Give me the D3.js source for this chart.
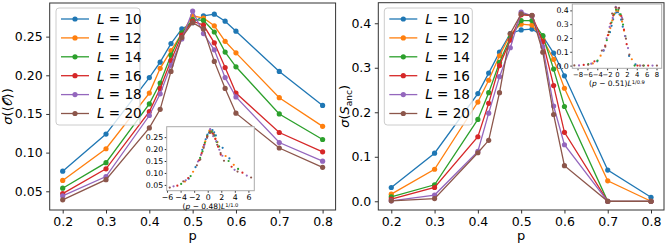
<!DOCTYPE html>
<html>
<head>
<meta charset="utf-8">
<script src="https://cdn.jsdelivr.net/npm/d3@7"></script>
<style>
  body { margin: 0; background: #fff; }
  svg { font-family: "DejaVu Sans", sans-serif; }
  .tick text { fill: #000; }
</style>
</head>
<body>
<div id="chart"></div>
<script>
// p values along the x axis
var pValues = [0.2, 0.3, 0.4, 0.425, 0.45, 0.475, 0.5, 0.525, 0.55, 0.575, 0.6, 0.7, 0.8];
var sizes = [10, 12, 14, 16, 18, 20];
var colors = ["#1f77b4", "#ff7f0e", "#2ca02c", "#d62728", "#9467bd", "#8c564b"];

// left panel: sigma(<O>)
var sigmaO10 = [0.076, 0.124, 0.197, 0.217, 0.241, 0.260, 0.268, 0.277, 0.279, 0.270, 0.257, 0.205, 0.161];
var sigmaO12 = [0.064, 0.105, 0.177, 0.209, 0.232, 0.254, 0.277, 0.274, 0.264, 0.244, 0.229, 0.171, 0.134];
var sigmaO14 = [0.054, 0.087, 0.163, 0.190, 0.226, 0.255, 0.272, 0.271, 0.256, 0.230, 0.211, 0.150, 0.117];
var sigmaO16 = [0.047, 0.079, 0.153, 0.183, 0.219, 0.252, 0.270, 0.265, 0.242, 0.210, 0.177, 0.126, 0.101];
var sigmaO18 = [0.044, 0.069, 0.148, 0.176, 0.213, 0.247, 0.283, 0.254, 0.233, 0.197, 0.172, 0.113, 0.089];
var sigmaO20 = [0.039, 0.065, 0.132, 0.156, 0.205, 0.249, 0.268, 0.260, 0.218, 0.183, 0.151, 0.106, 0.081];

// right panel: sigma(S_anc)
var sigmaS10 = [0.031, 0.108, 0.242, 0.288, 0.335, 0.377, 0.385, 0.387, 0.371, 0.333, 0.282, 0.070, 0.009];
var sigmaS12 = [0.016, 0.072, 0.223, 0.272, 0.327, 0.375, 0.398, 0.396, 0.364, 0.319, 0.254, 0.046, 0.000];
var sigmaS14 = [0.010, 0.037, 0.184, 0.244, 0.312, 0.368, 0.406, 0.406, 0.372, 0.297, 0.213, 0.000, 0.000];
var sigmaS16 = [0.005, 0.031, 0.145, 0.220, 0.305, 0.362, 0.419, 0.417, 0.359, 0.260, 0.155, 0.000, 0.000];
var sigmaS18 = [0.001, 0.014, 0.112, 0.198, 0.280, 0.345, 0.425, 0.417, 0.347, 0.214, 0.127, 0.000, 0.000];
var sigmaS20 = [0.001, 0.006, 0.109, 0.137, 0.244, 0.377, 0.421, 0.418, 0.335, 0.195, 0.080, 0.000, 0.000];

// tick labels
var leftYTicks = [0.05, 0.10, 0.15, 0.20, 0.25];
var rightYTicks = [0.0, 0.1, 0.2, 0.3, 0.4];
var xTicks = [0.2, 0.3, 0.4, 0.5, 0.6, 0.7, 0.8];
var leftInsetXTicks = [-6, -4, -2, 0, 2, 4, 6];
var rightInsetXTicks = [-8, -6, -4, -2, 0, 2, 4, 6, 8];

// collapse parameters shown on the inset labels
var leftPc = 0.48, leftNu = 1.0;
var rightPc = 0.51, rightNu = 0.9;

var svg = d3.select("#chart").append("svg")
  .attr("width", 665)
  .attr("height", 244);

function drawPanel(opt) {
  var x = d3.scaleLinear().domain([0.17, 0.83]).range([opt.x0, opt.x1]);
  var y = d3.scaleLinear().domain(opt.yDomain).range([opt.y1, opt.y0]);
  var g = svg.append("g");

  var line = d3.line()
    .x(function(d, i) { return x(pValues[i]); })
    .y(function(d) { return y(d); });

  opt.series.forEach(function(s, k) {
    g.append("path")
      .datum(s)
      .attr("fill", "none")
      .attr("stroke", colors[k])
      .attr("stroke-width", 1.3)
      .attr("d", line);
    g.selectAll(null)
      .data(s)
      .enter().append("circle")
      .attr("cx", function(d, i) { return x(pValues[i]); })
      .attr("cy", function(d) { return y(d); })
      .attr("r", 2.6)
      .attr("fill", colors[k]);
  });

  var xa = g.append("g")
    .attr("transform", "translate(0," + opt.y1 + ")")
    .call(d3.axisBottom(x).tickValues(xTicks).tickFormat(d3.format(".1f")).tickSize(3.5).tickPadding(3.5));
  var ya = g.append("g")
    .attr("transform", "translate(" + opt.x0 + ",0)")
    .call(d3.axisLeft(y).tickValues(opt.yTicks).tickFormat(d3.format(opt.yFmt)).tickSize(3.5).tickPadding(3.5));
  [xa, ya].forEach(function(a) {
    a.selectAll("text").attr("font-size", 12.5).attr("font-family", "DejaVu Sans");
    a.select(".domain").remove();
    a.selectAll("line").attr("stroke", "#333");
  });

  g.append("rect")
    .attr("x", opt.x0).attr("y", opt.y0)
    .attr("width", opt.x1 - opt.x0).attr("height", opt.y1 - opt.y0)
    .attr("fill", "none").attr("stroke", "#333").attr("stroke-width", 1);

  // x label
  g.append("text")
    .attr("x", (opt.x0 + opt.x1) / 2).attr("y", 240)
    .attr("text-anchor", "middle").attr("font-size", 13)
    .text("p");

  // y label
  var yl = g.append("text")
    .attr("transform", "translate(" + opt.ylx + "," + ((opt.y0 + opt.y1) / 2) + ") rotate(-90)")
    .attr("text-anchor", "middle").attr("font-size", 13);
  opt.yLabel(yl);

  // legend
  var lg = g.append("g");
  lg.append("rect")
    .attr("x", opt.lx).attr("y", 8).attr("width", opt.lw).attr("height", 117)
    .attr("rx", 3).attr("fill", "#fff").attr("fill-opacity", 0.8)
    .attr("stroke", "#ccc").attr("stroke-width", 1);
  sizes.forEach(function(L, k) {
    var yy = 19 + k * 18.9;
    lg.append("line")
      .attr("x1", opt.lx + 5).attr("x2", opt.lx + 33)
      .attr("y1", yy).attr("y2", yy)
      .attr("stroke", colors[k]).attr("stroke-width", 1.3);
    lg.append("circle")
      .attr("cx", opt.lx + 19).attr("cy", yy).attr("r", 2.6).attr("fill", colors[k]);
    var t = lg.append("text")
      .attr("x", opt.lx + 41).attr("y", yy + 4.8).attr("font-size", 13.5);
    t.append("tspan").attr("font-style", "italic").text("L");
    t.append("tspan").text(" = " + L);
  });

  // inset: scaling collapse
  var ix = d3.scaleLinear().domain(opt.inset.xDomain).range([opt.inset.x0, opt.inset.x1]);
  var iy = d3.scaleLinear().domain(opt.yDomain).range([opt.inset.y1, opt.inset.y0]);
  var ig = g.append("g");
  ig.append("rect")
    .attr("x", opt.inset.x0).attr("y", opt.inset.y0)
    .attr("width", opt.inset.x1 - opt.inset.x0).attr("height", opt.inset.y1 - opt.inset.y0)
    .attr("fill", "#fff");
  opt.series.forEach(function(s, k) {
    var L = sizes[k];
    ig.selectAll(null)
      .data(s)
      .enter().append("circle")
      .attr("cx", function(d, i) { return ix((pValues[i] - opt.inset.pc) * Math.pow(L, 1 / opt.inset.nu)); })
      .attr("cy", function(d) { return iy(d); })
      .attr("r", 1.1)
      .attr("fill", colors[k]);
  });
  var ixa = ig.append("g")
    .attr("transform", "translate(0," + opt.inset.y1 + ")")
    .call(d3.axisBottom(ix).tickValues(opt.inset.xTicks).tickFormat(function(d) { return d < 0 ? "\u2212" + (-d) : d; }).tickSize(2).tickPadding(1.5));
  var iya = ig.append("g")
    .attr("transform", "translate(" + opt.inset.x0 + ",0)")
    .call(d3.axisLeft(iy).tickValues(opt.yTicks).tickFormat(d3.format(opt.yFmt)).tickSize(2).tickPadding(1.5));
  ixa.selectAll("text").attr("font-size", opt.inset.xFont).attr("font-family", "DejaVu Sans");
  iya.selectAll("text").attr("font-size", 7.8).attr("font-family", "DejaVu Sans");
  [ixa, iya].forEach(function(a) {
    a.select(".domain").remove();
    a.selectAll("line").attr("stroke", "#333");
  });
  ig.append("rect")
    .attr("x", opt.inset.x0).attr("y", opt.inset.y0)
    .attr("width", opt.inset.x1 - opt.inset.x0).attr("height", opt.inset.y1 - opt.inset.y0)
    .attr("fill", "none").attr("stroke", "#aaa").attr("stroke-width", 1);
  var il = ig.append("text")
    .attr("x", (opt.inset.x0 + opt.inset.x1) / 2).attr("y", opt.inset.y1 + 18)
    .attr("text-anchor", "middle").attr("font-size", 7.5);
  il.append("tspan").text("(");
  il.append("tspan").attr("font-style", "italic").text("p");
  il.append("tspan").text(" \u2212 " + opt.inset.pc.toFixed(2) + ")");
  il.append("tspan").attr("font-style", "italic").text("L");
  il.append("tspan").attr("font-size", 5.2).attr("dy", -2.2).text("1/" + opt.inset.nu.toFixed(1));
}

drawPanel({
  x0: 49.7, x1: 335.6, y0: 3, y1: 210,
  yDomain: [0.0258, 0.2935],
  yTicks: leftYTicks, yFmt: ".2f",
  series: [sigmaO10, sigmaO12, sigmaO14, sigmaO16, sigmaO18, sigmaO20],
  ylx: 12,
  yLabel: function(t) {
    t.append("tspan").attr("font-style", "italic").text("\u03c3");
    t.append("tspan").text("(\u27e8");
    t.append("tspan").text("\ud835\udcaa");
    t.append("tspan").text("\u27e9)");
  },
  lx: 56, lw: 84,
  inset: { x0: 166.7, x1: 254.3, y0: 126.7, y1: 190.7, xDomain: [-6.05, 6.87],
           xTicks: leftInsetXTicks, pc: leftPc, nu: leftNu, xFont: 7.8 }
});

drawPanel({
  x0: 378.3, x1: 664, y0: 2.7, y1: 210,
  yDomain: [-0.0196, 0.4462],
  yTicks: rightYTicks, yFmt: ".1f",
  series: [sigmaS10, sigmaS12, sigmaS14, sigmaS16, sigmaS18, sigmaS20],
  ylx: 349,
  yLabel: function(t) {
    t.append("tspan").attr("font-style", "italic").text("\u03c3");
    t.append("tspan").text("(");
    t.append("tspan").attr("font-style", "italic").text("S");
    t.append("tspan").attr("font-size", 9).attr("dy", 3).text("anc");
    t.append("tspan").attr("dy", -3).text(")");
  },
  lx: 384.3, lw: 88,
  inset: { x0: 572.3, x1: 661.7, y0: 4, y1: 68.3, xDomain: [-9.06, 9.06],
           xTicks: rightInsetXTicks, pc: rightPc, nu: rightNu, xFont: 6.8 }
});
</script>
</body>
</html>
